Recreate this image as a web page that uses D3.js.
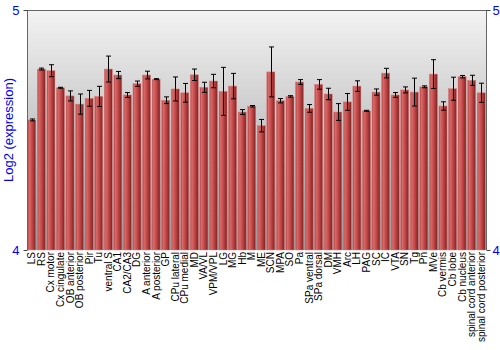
<!DOCTYPE html>
<html>
<head>
<meta charset="utf-8">
<script src="https://cdn.jsdelivr.net/npm/d3@7"></script>
<style>
  body { margin: 0; background: #fff; }
  svg { display: block; font-family: "Liberation Sans", Arial, sans-serif; }
</style>
</head>
<body>
<svg width="500" height="350"></svg>
<script>
const regions = ["LS", "RS", "Cx motor", "Cx cingulate", "OB anterior", "OB posterior", "Pir", "Tu",
    "ventral S", "CA1", "CA2/CA3", "DG", "A anterior", "A posterior", "GP", "CPu lateral", "CPu medial",
    "MD", "VA/VL", "VPM/VPL", "LG", "MG", "Hb", "M", "ME", "SCN", "MPA", "SO", "Pa", "SPa ventral",
    "SPa dorsal", "DM", "VMH", "Arc", "LH", "PAG", "SC", "IC", "VTA", "SN", "Tg", "Pn", "MVe",
    "Cb vermis", "Cb lobe", "Cb nucleus", "spinal cord anterior", "spinal cord posterior"];
const expression = [4.542, 4.754, 4.747, 4.676, 4.642, 4.608, 4.632, 4.640,
    4.754, 4.729, 4.646, 4.693, 4.729, 4.712, 4.624, 4.671, 4.655,
    4.730, 4.678, 4.704, 4.661, 4.683, 4.575, 4.599, 4.518, 4.742, 4.622, 4.640, 4.700, 4.590,
    4.690, 4.650, 4.575, 4.617, 4.683, 4.580, 4.658, 4.737, 4.646, 4.667, 4.658, 4.680, 4.733,
    4.600, 4.672, 4.722, 4.707, 4.655];
const errors = [0.004, 0.004, 0.025, 0.002, 0.021, 0.042, 0.033, 0.042,
    0.054, 0.015, 0.010, 0.011, 0.016, 0.002, 0.014, 0.050, 0.039,
    0.024, 0.021, 0.028, 0.100, 0.053, 0.010, 0.003, 0.026, 0.104, 0.009, 0.003, 0.010, 0.016,
    0.020, 0.024, 0.035, 0.035, 0.022, 0.002, 0.013, 0.020, 0.010, 0.0125, 0.058, 0.004, 0.060,
    0.0175, 0.048, 0.005, 0.021, 0.040];
const yTicks = [4, 5];

const svg = d3.select("svg");
const plotLeft = 27, plotRight = 486, plotTop = 10, plotBottom = 250;

const data = regions.map((r, i) => ({ name: r, value: expression[i], err: errors[i] }));

const x = d3.scaleBand().domain(regions).range([plotLeft, plotRight]).paddingInner(0.16).paddingOuter(0.08);
const y = d3.scaleLinear().domain([4, 5]).range([plotBottom, plotTop]);

const defs = svg.append("defs");
const bg = defs.append("linearGradient").attr("id", "bg").attr("x1", 0).attr("y1", 0).attr("x2", 0).attr("y2", 1);
bg.append("stop").attr("offset", "0%").attr("stop-color", "#f3f3f3");
bg.append("stop").attr("offset", "100%").attr("stop-color", "#999999");

const barGrad = defs.append("linearGradient").attr("id", "bar").attr("x1", 0).attr("y1", 0).attr("x2", 1).attr("y2", 0);
barGrad.append("stop").attr("offset", "0%").attr("stop-color", "#b04040");
barGrad.append("stop").attr("offset", "20%").attr("stop-color", "#d86a6a");
barGrad.append("stop").attr("offset", "55%").attr("stop-color", "#c24646");
barGrad.append("stop").attr("offset", "100%").attr("stop-color", "#7c2222");

// plot background
svg.append("rect")
    .attr("x", plotLeft).attr("y", plotTop)
    .attr("width", plotRight - plotLeft).attr("height", plotBottom - plotTop)
    .attr("fill", "url(#bg)");

// bars
svg.selectAll("rect.bar")
    .data(data)
    .enter()
    .append("rect")
    .attr("class", "bar")
    .attr("x", d => x(d.name))
    .attr("y", d => y(d.value))
    .attr("width", x.bandwidth())
    .attr("height", d => y(4) - y(d.value))
    .attr("fill", "url(#bar)")
    .attr("stroke", "#d98080")
    .attr("stroke-width", 0.5);

// error bars
const eb = svg.selectAll("g.err")
    .data(data)
    .enter()
    .append("g")
    .attr("class", "err")
    .attr("stroke", "#000")
    .attr("stroke-width", 1);
const cx = d => Math.round(x(d.name) + x.bandwidth() / 2) + 0.5;
eb.append("line")
    .attr("x1", cx).attr("x2", cx)
    .attr("y1", d => y(d.value + d.err)).attr("y2", d => y(d.value - d.err));
eb.append("line")
    .attr("x1", d => cx(d) - 2.5).attr("x2", d => cx(d) + 2.5)
    .attr("y1", d => y(d.value + d.err)).attr("y2", d => y(d.value + d.err));
eb.append("line")
    .attr("x1", d => cx(d) - 2.5).attr("x2", d => cx(d) + 2.5)
    .attr("y1", d => y(d.value - d.err)).attr("y2", d => y(d.value - d.err));

// frame top line
svg.append("line")
    .attr("x1", plotLeft).attr("x2", plotRight)
    .attr("y1", plotTop + 0.5).attr("y2", plotTop + 0.5)
    .attr("stroke", "#666");

// axes
const yLeft = svg.append("g")
    .attr("transform", `translate(${plotLeft + 0.5},0)`)
    .call(d3.axisLeft(y).tickValues(yTicks).tickFormat(d3.format("d")).tickSize(4).tickPadding(4));
const yRight = svg.append("g")
    .attr("transform", `translate(${plotRight + 0.5},0)`)
    .call(d3.axisRight(y).tickValues(yTicks).tickFormat(d3.format("d")).tickSize(4).tickPadding(2));
[yLeft, yRight].forEach(g => {
    g.select(".domain").attr("stroke", "#666").attr("d", `M0,${plotTop}V${plotBottom}`);
    g.selectAll(".tick line").attr("stroke", "#444");
    g.selectAll(".tick text")
        .attr("fill", "#0000ff")
        .style("font-size", "13px")
        .style("font-family", "'Liberation Sans', Arial, sans-serif");
});

// category labels
svg.selectAll("text.cat")
    .data(data)
    .enter()
    .append("text")
    .attr("class", "cat")
    .attr("transform", d => `translate(${x(d.name) + x.bandwidth() / 2 + 3.5},${plotBottom + 2}) rotate(-90)`)
    .attr("text-anchor", "end")
    .attr("font-size", "10px")
    .attr("fill", "#000")
    .text(d => d.name);

// y axis title
svg.append("text")
    .attr("transform", `translate(13,${(plotTop + plotBottom) / 2}) rotate(-90)`)
    .attr("text-anchor", "middle")
    .attr("font-size", "13px")
    .attr("fill", "#0000ff")
    .text("Log2 (expression)");
</script>
</body>
</html>
